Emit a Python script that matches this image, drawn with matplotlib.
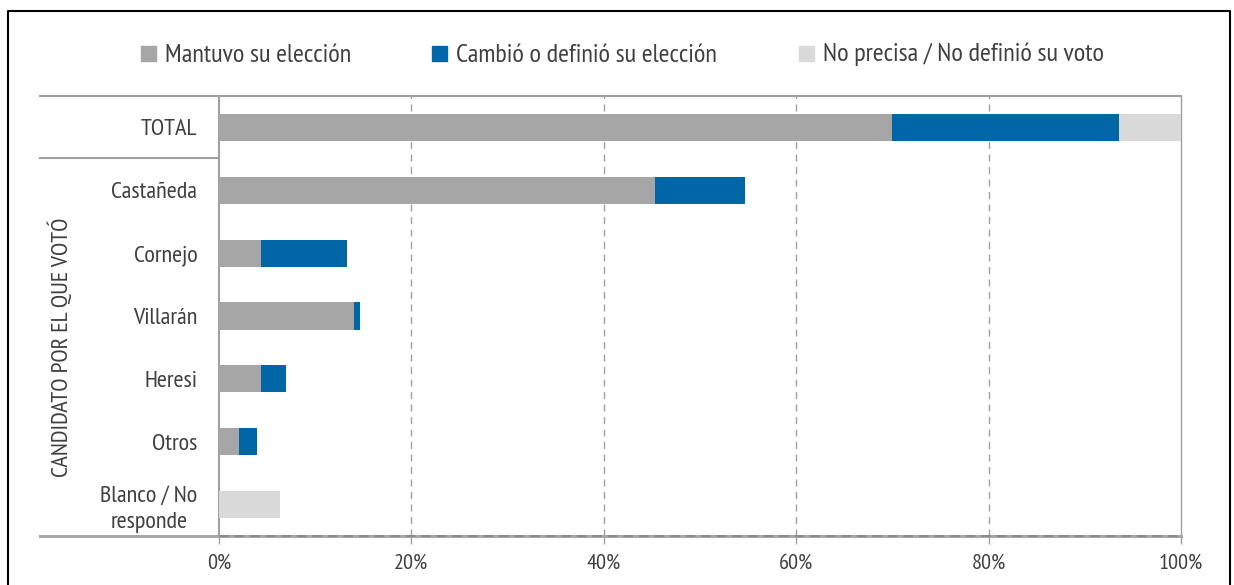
import matplotlib
matplotlib.use("Agg")
import matplotlib.pyplot as plt
from matplotlib.lines import Line2D

plt.rcParams['font.family'] = ['PT Sans Narrow', 'DejaVu Sans']

categories = ["TOTAL", "Castañeda", "Cornejo", "Villarán", "Heresi", "Otros", "Blanco / No\nresponde"]
mantuvo = [70.0, 45.3, 4.4, 14.0, 4.4, 2.1, 0.0]
cambio = [23.6, 9.4, 8.9, 0.7, 2.6, 1.9, 0.0]
no_precisa = [6.4, 0.0, 0.0, 0.0, 0.0, 0.0, 6.3]
series_names = ["Mantuvo su elección", "Cambió o definió su elección", "No precisa / No definió su voto"]
xticks = [0, 20, 40, 60, 80, 100]
xtick_labels = ["0%", "20%", "40%", "60%", "80%", "100%"]
ylabel = "CANDIDATO POR EL QUE VOTÓ"

colors = ["#a6a6a6", "#0066a6", "#d9d9d9"]
text_color = "#404040"
grid_color = "#a0a0a0"

W, H = 1234, 585
fig = plt.figure(figsize=(W / 100, H / 100), dpi=100)

def fx(px):
    return px / W

def fy(py):
    return 1 - py / H

ax = fig.add_axes([fx(219), fy(536), fx(1181) - fx(219), fy(96) - fy(536)])

ypos = list(range(len(categories)))
left2 = [a for a in mantuvo]
left3 = [a + b for a, b in zip(mantuvo, cambio)]
bh = 0.43
ax.barh(ypos, mantuvo, height=bh, color=colors[0], zorder=3)
ax.barh(ypos, cambio, left=left2, height=bh, color=colors[1], zorder=3)
ax.barh(ypos, no_precisa, left=left3, height=bh, color=colors[2], zorder=3)

ax.set_xlim(0, 100)
ax.set_ylim(len(categories) - 0.5, -0.5)

for x in xticks[1:-1]:
    ax.axvline(x, color=grid_color, lw=1, ls=(0, (5, 4)), zorder=1)

for s in ["top", "bottom"]:
    ax.spines[s].set_visible(False)
ax.spines["left"].set_color(grid_color)
ax.spines["left"].set_linewidth(1.5)
ax.spines["right"].set_color(grid_color)
ax.spines["right"].set_linewidth(1.0)

ax.set_xticks(xticks)
ax.set_xticklabels(xtick_labels, fontsize=16, color=text_color)
ax.tick_params(axis="x", length=6, color=grid_color, width=1, pad=7)
ax.set_yticks(ypos)
ax.set_yticklabels(categories, fontsize=17.5, color=text_color, multialignment="center",
                   linespacing=1.3)
ax.tick_params(axis="y", length=0, pad=15.5)

# horizontal rules extending into left margin
fig.add_artist(Line2D([fx(40), fx(1181)], [fy(96), fy(96)], color=grid_color, lw=1.5))
fig.add_artist(Line2D([fx(40), fx(219)], [fy(158), fy(158)], color=grid_color, lw=1.5))
fig.add_artist(Line2D([fx(40), fx(1181)], [fy(536), fy(536)], color="#a8a8a8", lw=2.2))
fig.add_artist(Line2D([fx(219), fx(1181)], [fy(536), fy(536)], color="#8a8a8a", lw=1.4,
                      ls=(0, (5, 3))))

# outer frame
fig.add_artist(Line2D([fx(8), fx(8), fx(1230), fx(1230)], [0, fy(11), fy(11), 0], color="black", lw=1.5))

fig.text(fx(61), fy(347), ylabel, rotation=90, ha="center", va="center", fontsize=17.5, color=text_color)

leg_x = [141, 432, 799]
for hx, c, name in zip(leg_x, colors, series_names):
    fig.add_artist(plt.Rectangle((fx(hx), fy(61)), fx(15), fy(46) - fy(61), color=c, transform=fig.transFigure))
    fig.text(fx(hx + 24), fy(61.5), name, ha="left", va="baseline", fontsize=19, color=text_color)

fig.savefig("out.png", dpi=100)
